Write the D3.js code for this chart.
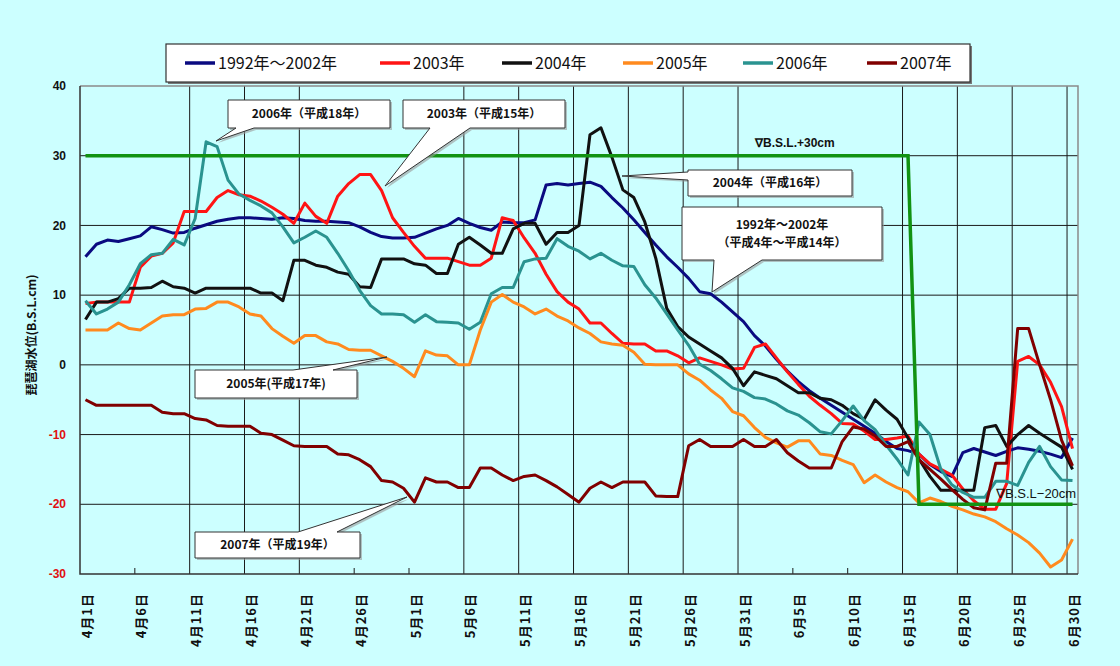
<!DOCTYPE html>
<html>
<head>
<meta charset="utf-8">
<script src="https://cdn.jsdelivr.net/npm/d3@7"></script>
<style>
  body { margin: 0; background: #ccffff; }
  svg { display: block; }
</style>
</head>
<body>
<div id="chart"></div>
<script>
// canvas size
var width = 1120,
    height = 666;

// tick labels on the date axis, one every 5 days
var dateLabels = ["4月1日", "4月6日", "4月11日", "4月16日", "4月21日", "4月26日", "5月1日", "5月6日",
  "5月11日", "5月16日", "5月21日", "5月26日", "5月31日", "6月5日", "6月10日", "6月15日",
  "6月20日", "6月25日", "6月30日"];

var yTicks = [40, 30, 20, 10, 0, -10, -20, -30];

// daily lake level (B.S.L. cm), 4/1 .. 6/30
var avg1992to2002 = [15.5, 17.3, 17.9, 17.7, 18.1, 18.5, 19.8, 19.4, 18.9, 19,
  19.6, 20.1, 20.6, 20.9, 21.1, 21.1, 21, 20.9, 21.1, 21,
  20.7, 20.6, 20.6, 20.5, 20.4, 19.8, 19, 18.4, 18.2, 18.2,
  18.3, 18.9, 19.5, 20, 21, 20.3, 19.7, 19.3, 20.5, 20.4,
  20.4, 20.8, 25.8, 26, 25.8, 26, 26.2, 25.6, 24, 22.5,
  20.8, 19, 17.2, 15.5, 14, 12.4, 10.5, 10.2, 9, 7.6,
  6.2, 4.2, 2.7, 0.8, -0.9, -2.4, -3.7, -4.8, -5.8, -6.8,
  -7.8, -8.8, -9.8, -11, -12, -12.3, -12.8, -14.3, -15.3, -16,
  -12.6, -12, -12.5, -13, -12.4, -11.9, -12.1, -12.4, -12.8, -13.3,
  -10.5];

var year2003 = [8.8, 9, 9, 9, 9, 14, 15.6, 16, 17.5, 22,
  22, 22, 24, 25, 24.4, 24.2, 23.5, 22.6, 21.6, 20.3,
  23.2, 21.3, 20.3, 24.2, 26, 27.3, 27.3, 25, 21.1, 19,
  17, 15.3, 15.3, 15.3, 14.8, 14.3, 14.3, 15.3, 21.1, 20.7,
  18.2, 16, 13, 10.5, 9, 8, 6, 6, 4.5, 3.1,
  3, 3, 2, 2, 1.3, 0.3, 1, 0.5, 0, -0.6,
  -0.5, 2.5, 3, 1, -1, -2.8, -4.5, -5.8, -7, -8.4,
  -8.5, -9.5, -10.7, -10.7, -10.5, -10.2, -12.8, -14.2, -15, -15.8,
  -17.8, -19.5, -20.7, -20.7, -17, 0.5, 1.2, 0, -2.5, -6,
  -12];

var year2004 = [6.5, 9, 9, 9.5, 11, 11, 11.1, 12, 11.2, 11,
  10.3, 11, 11, 11, 11, 11, 10.3, 10.3, 9.2, 15,
  15, 14.3, 14, 13.3, 13, 11.2, 11.1, 15.2, 15.2, 15.2,
  14.5, 14.3, 13.1, 13.1, 17.3, 18.3, 17.2, 16, 16, 19.5,
  20.3, 20.3, 17.3, 19, 19, 20, 33, 34, 29.8, 25.1,
  24, 20.5, 15.3, 8.1, 5.5, 4, 3, 2, 1, -0.5,
  -3, -1, -1.5, -2, -3, -4, -4, -4.8, -5, -5.8,
  -7, -7.8, -5, -6.5, -7.8, -10.5, -13.5, -16, -18, -18,
  -18, -18, -9, -8.7, -11.7, -10, -8.7, -9.8, -10.8, -11.8,
  -15];

var year2005 = [5, 5, 5, 6, 5.2, 5, 6, 7, 7.2, 7.2,
  8, 8.1, 9, 9, 8.3, 7.3, 7, 5.2, 4.1, 3.1,
  4.2, 4.2, 3.3, 3, 2.2, 2.1, 2.1, 1.3, 0.5, -0.5,
  -1.7, 2, 1.4, 1.3, 0, 0, 5, 9, 10.1, 9,
  8.3, 7.3, 8, 7, 6.3, 5.3, 4.5, 3.3, 3, 2.8,
  1.8, 0.1, 0, 0, 0, -1.3, -2.2, -3.6, -4.8, -6.7,
  -7.3, -9, -10.4, -11.2, -11.8, -10.9, -10.9, -12.8, -13, -13.7,
  -14.3, -16.9, -15.8, -16.8, -17.6, -18.2, -19.8, -19.1, -19.6, -20.3,
  -20.8, -21.4, -21.8, -22.5, -23.5, -24.4, -25.5, -27, -29, -28,
  -25];

var year2006 = [9.2, 7.3, 8, 9, 11.5, 14.5, 15.8, 16, 18, 17.2,
  21, 32, 31.3, 26.5, 24.5, 23.6, 22.8, 21.8, 19.8, 17.5,
  18.3, 19.2, 18.3, 16, 13.5, 10.7, 8.5, 7.3, 7.3, 7.2,
  6.1, 7.2, 6.2, 6.1, 6, 5.1, 6.1, 10.2, 11.1, 11.1,
  14.8, 15.2, 15.3, 18.1, 17, 16.3, 15.2, 16, 15, 14.2,
  14.1, 11.5, 9.6, 7.3, 5, 2.8, 0.1, -0.8, -2, -3.3,
  -3.8, -4.7, -4.9, -5.6, -6.6, -7.2, -8.3, -9.6, -9.9, -8,
  -5.9, -8, -9.3, -11.5, -13.5, -15.8, -8.2, -10, -15, -17.2,
  -18.3, -19, -19, -16.7, -16.7, -17.3, -14, -11.7, -14.6, -16.5,
  -16.6];

var year2007 = [-5, -5.8, -5.8, -5.8, -5.8, -5.8, -5.8, -6.8, -7, -7,
  -7.7, -7.9, -8.7, -8.8, -8.8, -8.8, -9.8, -10, -10.8, -11.6,
  -11.7, -11.7, -11.7, -12.8, -12.9, -13.6, -14.6, -16.6, -16.8, -17.7,
  -19.7, -16.2, -16.8, -16.8, -17.6, -17.6, -14.8, -14.8, -15.8, -16.6,
  -16, -15.8, -16.6, -17.5, -18.6, -19.7, -17.7, -16.8, -17.6, -16.8,
  -16.8, -16.8, -18.8, -18.9, -18.9, -11.6, -10.7, -11.7, -11.7, -11.7,
  -10.7, -11.7, -11.7, -10.7, -12.6, -13.8, -14.8, -14.8, -14.8, -11,
  -8.9, -9.2, -10.2, -11.7, -11.7, -11, -13.6, -15, -16.4, -17.9,
  -19.3, -20.5, -20.8, -14.1, -14.1, 5.2, 5.2, 0, -5, -10.8,
  -14.5];

// operating limit: +30cm until 6/15, then -20cm  [day index, level]
var bslLimit = [[0, 30], [75, 30], [76, -20], [90, -20]];

var seriesNames = ["1992年～2002年", "2003年", "2004年", "2005年", "2006年", "2007年"];
var seriesColors = ["#0a0a80", "#ff1414", "#111111", "#ff8a1e", "#2a9390", "#800000"];
var seriesValues = [avg1992to2002, year2003, year2004, year2005, year2006, year2007];

var svg = d3.select("#chart")
    .append("svg")
    .attr("width", width)
    .attr("height", height);

svg.append("rect")
    .attr("width", width)
    .attr("height", height)
    .attr("fill", "#ccffff");

// category axis: one slot per day, points in the middle of the slot
var x = d3.scaleLinear().domain([0, 91]).range([80, 1078]);
var y = d3.scaleLinear().domain([-30, 40]).range([574, 86]);

var gridDays = [10, 15, 20, 35, 40, 45, 50, 55, 60, 75, 80, 85, 90],
    tickDays = [5, 25, 30, 65, 70];

// horizontal grid lines
svg.selectAll(".hgrid")
    .data([30, 20, 10, 0, -10, -20])
    .enter().append("line")
    .attr("x1", x(0)).attr("x2", x(91))
    .attr("y1", function(d) { return y(d); })
    .attr("y2", function(d) { return y(d); })
    .attr("stroke", "#1a1a1a")
    .attr("stroke-width", 1);

// vertical grid lines
svg.selectAll(".vgrid")
    .data(gridDays)
    .enter().append("line")
    .attr("x1", function(d) { return x(d); })
    .attr("x2", function(d) { return x(d); })
    .attr("y1", y(40)).attr("y2", y(-30))
    .attr("stroke", "#1a1a1a")
    .attr("stroke-width", 1);

// small tick marks where there is no grid line
svg.selectAll(".xtick")
    .data(tickDays)
    .enter().append("line")
    .attr("x1", function(d) { return x(d); })
    .attr("x2", function(d) { return x(d); })
    .attr("y1", y(-30)).attr("y2", y(-30) - 6)
    .attr("stroke", "#1a1a1a");

// frame: top & right grey, left & bottom dark
svg.append("path")
    .attr("d", "M" + x(0) + "," + y(40) + "H" + x(91) + "V" + y(-30))
    .attr("fill", "none")
    .attr("stroke", "#8a8a8a")
    .attr("stroke-width", 1.5);
svg.append("path")
    .attr("d", "M" + x(0) + "," + y(40) + "V" + y(-30) + "H" + x(91))
    .attr("fill", "none")
    .attr("stroke", "#333")
    .attr("stroke-width", 1.5);

// y tick labels, negatives in red
svg.selectAll(".ylabel")
    .data(yTicks)
    .enter().append("text")
    .attr("x", 66)
    .attr("y", function(d) { return y(d); })
    .attr("dy", "0.35em")
    .attr("text-anchor", "end")
    .attr("font-family", "Liberation Sans, Arial, sans-serif")
    .attr("font-weight", "bold")
    .attr("font-size", "12px")
    .attr("fill", function(d) { return d < 0 ? "#e01010" : "#111"; })
    .text(function(d) { return d < 0 ? "-" + Math.abs(d) : d; });

// y axis title
svg.append("text")
    .attr("transform", "translate(32,335) rotate(-90)")
    .attr("text-anchor", "middle")
    .attr("dy", "0.35em")
    .attr("font-family", "Noto Sans CJK JP, sans-serif")
    .attr("font-weight", "bold")
    .attr("font-size", "12px")
    .attr("fill", "#111")
    .text("琵琶湖水位(B.S.L.cm)");

// date labels, rotated
svg.selectAll(".xlabel")
    .data(dateLabels)
    .enter().append("text")
    .attr("transform", function(d, i) {
        return "translate(" + (x(i * 5) + 7) + ",593) rotate(-90)";
    })
    .attr("text-anchor", "end")
    .attr("dy", "0.35em")
    .attr("font-family", "Noto Sans CJK JP, sans-serif")
    .attr("font-weight", "bold")
    .attr("font-size", "13px")
    .attr("letter-spacing", "1px")
    .attr("fill", "#111")
    .text(function(d) { return d; });

// series lines
var line = d3.line()
    .x(function(d, i) { return x(i + 0.5); })
    .y(function(d) { return y(d); });

svg.selectAll(".series")
    .data(seriesValues)
    .enter().append("path")
    .attr("class", "series")
    .attr("d", line)
    .attr("fill", "none")
    .attr("stroke", function(d, i) { return seriesColors[i]; })
    .attr("stroke-width", 3)
    .attr("stroke-linejoin", "round");

// B.S.L. limit line
svg.append("path")
    .attr("d", d3.line()
        .x(function(d) { return x(d[0] + 0.5); })
        .y(function(d) { return y(d[1]); })(bslLimit))
    .attr("fill", "none")
    .attr("stroke", "#129212")
    .attr("stroke-width", 3.5);

svg.append("text")
    .attr("x", 755).attr("y", 143)
    .attr("dy", "0.35em")
    .attr("font-family", "Liberation Sans, Arial, sans-serif")
    .attr("font-weight", "bold")
    .attr("font-size", "12px")
    .attr("fill", "#111")
    .text("∇B.S.L.+30cm");

svg.append("text")
    .attr("x", 996).attr("y", 493)
    .attr("dy", "0.35em")
    .attr("font-family", "Liberation Sans, Arial, sans-serif")
    .attr("font-size", "13px")
    .attr("fill", "#111")
    .text("∇B.S.L−20cm");

// callouts
var callouts = [
    {lines: ["2006年（平成18年）"], x0: 228, y0: 100, x1: 390, y1: 128, side: "bottom", b0: 236, b1: 254, tip: [216, 141]},
    {lines: ["2003年（平成15年）"], x0: 403, y0: 100, x1: 565, y1: 128, side: "bottom", b0: 430, b1: 470, tip: [385, 186]},
    {lines: ["2004年（平成16年）"], x0: 688, y0: 170, x1: 852, y1: 196, side: "left", b0: 172, b1: 180, tip: [622, 176]},
    {lines: ["1992年～2002年", "（平成4年～平成14年）"], x0: 682, y0: 207, x1: 882, y1: 260, side: "bottom", b0: 714, b1: 762, tip: [712, 292]},
    {lines: ["2005年(平成17年)"], x0: 195, y0: 370, x1: 357, y1: 398, side: "top", b0: 293, b1: 333, tip: [387, 357]},
    {lines: ["2007年（平成19年）"], x0: 195, y0: 532, x1: 360, y1: 558, side: "top", b0: 298, b1: 337, tip: [407, 497]}
];

function calloutPath(c, dx, dy) {
    var x0 = c.x0 + dx, x1 = c.x1 + dx, y0 = c.y0 + dy, y1 = c.y1 + dy,
        t = [c.tip[0] + dx, c.tip[1] + dy];
    if (c.side === "bottom") {
        return "M" + x0 + "," + y0 + "H" + x1 + "V" + y1 + "H" + (c.b1 + dx) +
            "L" + t[0] + "," + t[1] + "L" + (c.b0 + dx) + "," + y1 + "H" + x0 + "Z";
    }
    if (c.side === "top") {
        return "M" + x0 + "," + y0 + "H" + (c.b0 + dx) + "L" + t[0] + "," + t[1] +
            "L" + (c.b1 + dx) + "," + y0 + "H" + x1 + "V" + y1 + "H" + x0 + "Z";
    }
    return "M" + x0 + "," + y0 + "H" + x1 + "V" + y1 + "H" + x0 + "V" + (c.b1 + dy) +
        "L" + t[0] + "," + t[1] + "L" + x0 + "," + (c.b0 + dy) + "Z";
}

var callout = svg.selectAll(".callout")
    .data(callouts)
    .enter().append("g")
    .attr("class", "callout");

callout.append("path")
    .attr("d", function(d) { return calloutPath(d, 2, 2); })
    .attr("fill", "#9a9a9a")
    .attr("opacity", 0.6);

callout.append("path")
    .attr("d", function(d) { return calloutPath(d, 0, 0); })
    .attr("fill", "#fff")
    .attr("stroke", "#333")
    .attr("stroke-width", 1);

callout.each(function(d) {
    var g = d3.select(this),
        cx = (d.x0 + d.x1) / 2,
        cy = (d.y0 + d.y1) / 2,
        n = d.lines.length;
    d.lines.forEach(function(t, i) {
        g.append("text")
            .attr("x", cx)
            .attr("y", cy + (i - (n - 1) / 2) * 18)
            .attr("dy", "0.35em")
            .attr("text-anchor", "middle")
            .attr("font-family", "Noto Sans CJK JP, sans-serif")
            .attr("font-weight", "bold")
            .attr("font-size", "12px")
            .attr("fill", "#111")
            .text(t);
    });
});

// legend
var legendX = [185, 380, 502, 623, 743, 867];

svg.append("rect")
    .attr("x", 168).attr("y", 46)
    .attr("width", 804).attr("height", 38)
    .attr("fill", "#777");
svg.append("rect")
    .attr("x", 166).attr("y", 44)
    .attr("width", 804).attr("height", 38)
    .attr("fill", "#fff")
    .attr("stroke", "#333")
    .attr("stroke-width", 1.2);

var legend = svg.selectAll(".legend")
    .data(seriesNames)
    .enter().append("g")
    .attr("class", "legend")
    .attr("transform", function(d, i) { return "translate(" + legendX[i] + ",63)"; });

legend.append("line")
    .attr("x1", 0).attr("x2", 30)
    .attr("stroke", function(d, i) { return seriesColors[i]; })
    .attr("stroke-width", 3.5);

legend.append("text")
    .attr("x", 33)
    .attr("dy", "0.35em")
    .attr("font-family", "Noto Sans CJK JP, sans-serif")
    .attr("font-size", "16px")
    .attr("fill", "#111")
    .text(function(d) { return d; });
</script>
</body>
</html>
